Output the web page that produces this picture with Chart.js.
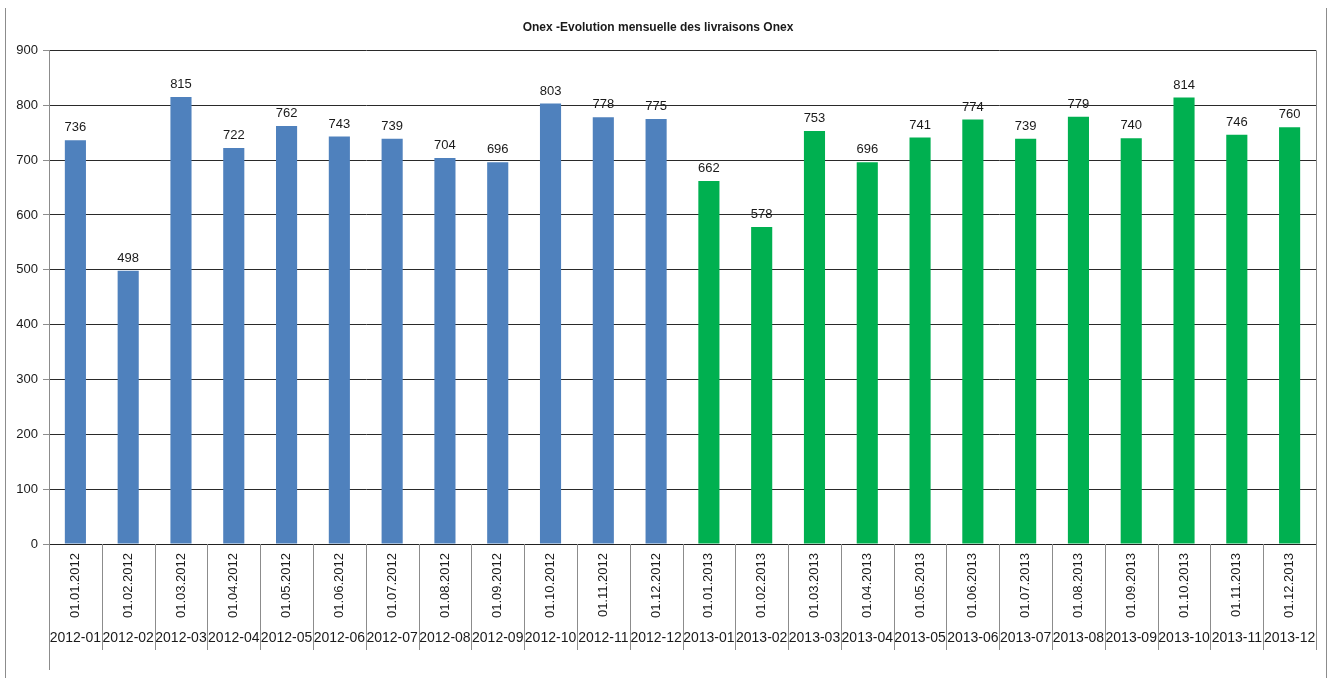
<!DOCTYPE html>
<html>
<head>
<meta charset="utf-8">
<script src="https://cdn.jsdelivr.net/npm/chart.js@4/dist/chart.umd.min.js"></script>
<style>
  html, body { margin: 0; padding: 0; background: #fff; }
  #wrap { width: 1333px; height: 678px; }
</style>
</head>
<body>
<div id="wrap"><canvas id="livChart"></canvas></div>
<script>
// DATA
const dateLabels = ['01.01.2012', '01.02.2012', '01.03.2012', '01.04.2012', '01.05.2012', '01.06.2012',
    '01.07.2012', '01.08.2012', '01.09.2012', '01.10.2012', '01.11.2012', '01.12.2012',
    '01.01.2013', '01.02.2013', '01.03.2013', '01.04.2013', '01.05.2013', '01.06.2013',
    '01.07.2013', '01.08.2013', '01.09.2013', '01.10.2013', '01.11.2013', '01.12.2013'];
const monthLabels = ['2012-01', '2012-02', '2012-03', '2012-04', '2012-05', '2012-06',
    '2012-07', '2012-08', '2012-09', '2012-10', '2012-11', '2012-12',
    '2013-01', '2013-02', '2013-03', '2013-04', '2013-05', '2013-06',
    '2013-07', '2013-08', '2013-09', '2013-10', '2013-11', '2013-12'];
const deliveries = [736, 498, 815, 722, 762, 743, 739, 704, 696, 803, 778, 775,
    662, 578, 753, 696, 741, 774, 739, 779, 740, 814, 746, 760];
const yTicks = [0, 100, 200, 300, 400, 500, 600, 700, 800, 900];

const yearColors = { '2012': '#4f81bd', '2013': '#00b050' };
const barColors = monthLabels.map(m => yearColors[m.slice(0, 4)]);

const FONT = 'Liberation Sans, Arial, sans-serif';

// value labels above the bars
const valueLabels = {
    id: 'valueLabels',
    afterDatasetsDraw(chart) {
        const ctx = chart.ctx;
        const meta = chart.getDatasetMeta(0);
        ctx.save();
        ctx.font = '13px ' + FONT;
        ctx.fillStyle = '#1a1a1a';
        ctx.textAlign = 'center';
        ctx.textBaseline = 'bottom';
        meta.data.forEach((bar, i) => {
            ctx.fillText(String(deliveries[i]), bar.x, bar.y - 6);
        });
        ctx.restore();
    }
};

// frame lines and category separators under the axis
const frameLines = {
    id: 'frameLines',
    afterDraw(chart) {
        const ctx = chart.ctx;
        const a = chart.chartArea;
        const x = chart.scales.x;
        const x2 = chart.scales.x2;
        const bottom = x2.bottom;
        ctx.save();
        ctx.lineWidth = 1;
        ctx.strokeStyle = '#8c8c8c';
        ctx.beginPath();
        // separators between categories
        for (let i = 0; i <= dateLabels.length; i++) {
            let px;
            if (i === 0) px = a.left;
            else if (i === dateLabels.length) px = a.right;
            else px = (x.getPixelForTick(i - 1) + x.getPixelForTick(i)) / 2;
            px = Math.round(px) + 0.5;
            ctx.moveTo(px, a.bottom);
            ctx.lineTo(px, bottom);
        }
        // left axis extension
        ctx.moveTo(Math.round(a.left) + 0.5, bottom);
        ctx.lineTo(Math.round(a.left) + 0.5, 670);
        // right plot border
        ctx.moveTo(Math.round(a.right) + 0.5, a.top);
        ctx.lineTo(Math.round(a.right) + 0.5, a.bottom);
        // outer chart border
        ctx.moveTo(5.5, 8);
        ctx.lineTo(5.5, 678);
        ctx.moveTo(1326.5, 8);
        ctx.lineTo(1326.5, 678);
        ctx.stroke();
        ctx.restore();
    }
};

new Chart(document.getElementById('livChart'), {
    type: 'bar',
    data: {
        labels: dateLabels,
        datasets: [{
            label: 'Livraisons',
            data: deliveries,
            backgroundColor: barColors,
            borderWidth: 0,
            categoryPercentage: 1,
            barPercentage: 0.4,
            xAxisID: 'x'
        }]
    },
    options: {
        responsive: true,
        maintainAspectRatio: false,
        animation: false,
        layout: { padding: { left: 0, right: 17, top: 0, bottom: 28 } },
        scales: {
            x: {
                position: 'bottom',
                offset: true,
                grid: { display: false, drawTicks: false },
                border: { display: true, color: '#222' },
                ticks: {
                    color: '#1a1a1a',
                    font: { family: FONT, size: 13 },
                    minRotation: 90,
                    maxRotation: 90,
                    autoSkip: false,
                    padding: 9
                },
                afterFit(s) { s.height = 82; }
            },
            x2: {
                type: 'category',
                labels: monthLabels,
                position: 'bottom',
                offset: true,
                grid: { display: false, drawTicks: false },
                border: { display: false },
                ticks: {
                    color: '#1a1a1a',
                    font: { family: FONT, size: 14 },
                    maxRotation: 0,
                    autoSkip: false,
                    padding: 4
                },
                afterFit(s) { s.height = 24; }
            },
            y: {
                min: 0,
                max: 900,
                afterBuildTicks(s) { s.ticks = yTicks.map(v => ({ value: v })); },
                grid: { color: '#2a2a2a', tickLength: 6, tickColor: '#8c8c8c' },
                border: { display: true, color: '#8c8c8c' },
                ticks: {
                    color: '#1a1a1a',
                    font: { family: FONT, size: 13 },
                    padding: 5
                },
                afterFit(s) { s.width = 49; }
            }
        },
        plugins: {
            legend: { display: false },
            tooltip: { enabled: false },
            title: {
                display: true,
                text: 'Onex -Evolution mensuelle des livraisons Onex',
                color: '#1a1a1a',
                font: { family: FONT, size: 12, weight: 'bold' },
                padding: { top: 20, bottom: 16 }
            }
        }
    },
    plugins: [valueLabels, frameLines]
});
</script>
</body>
</html>
